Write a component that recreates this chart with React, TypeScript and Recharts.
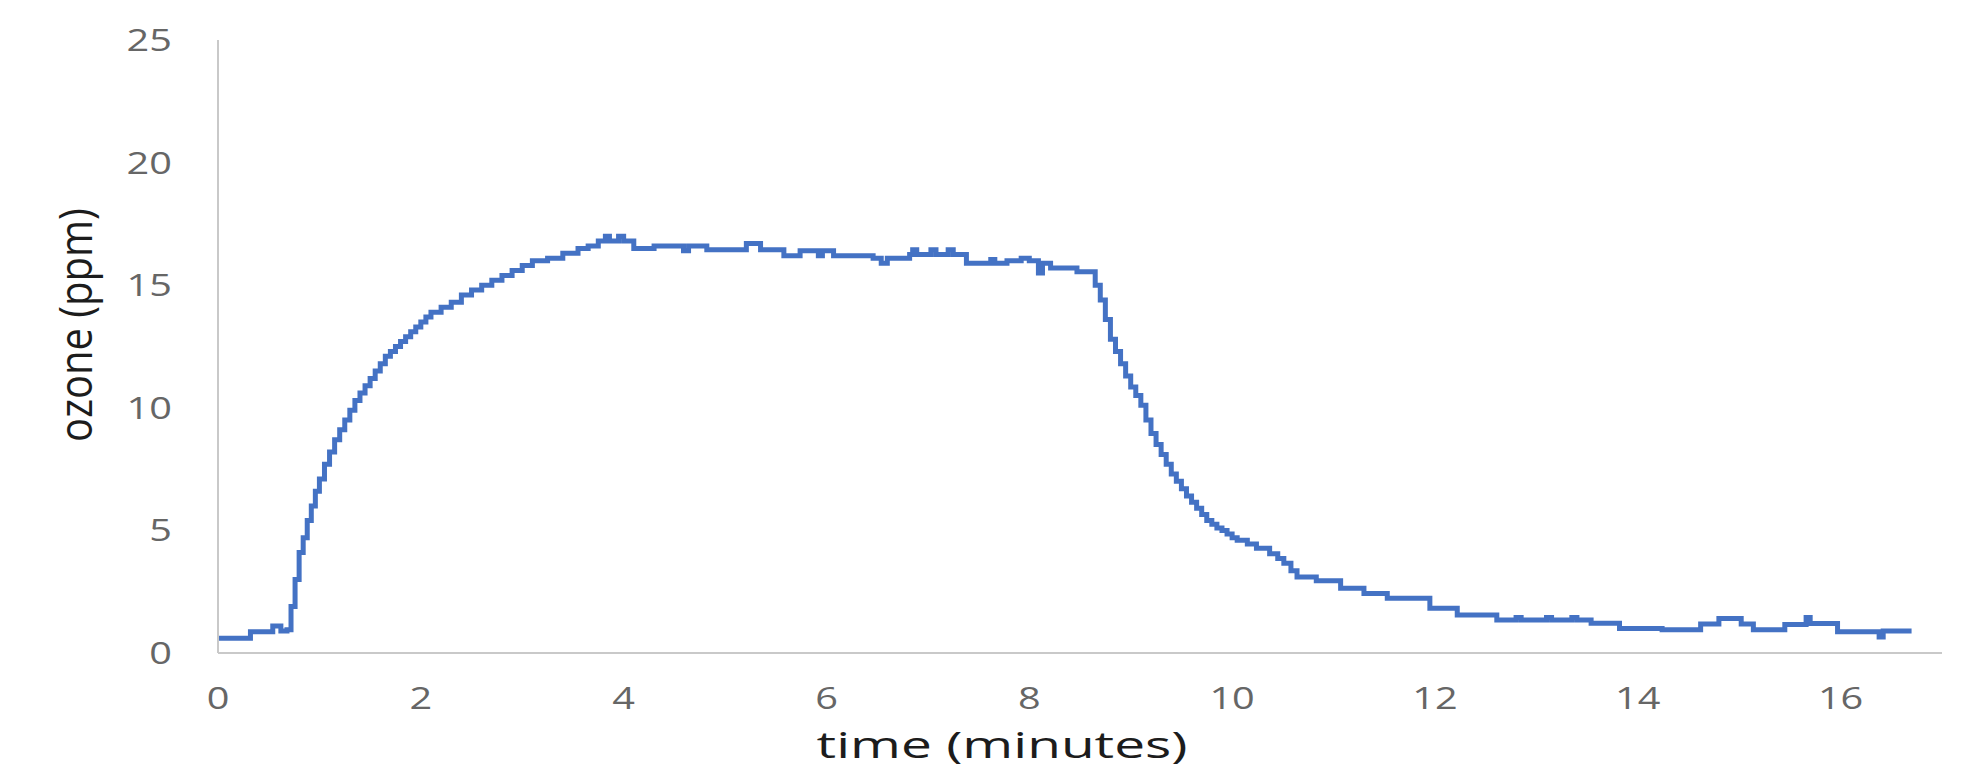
import React from "react";
import { LineChart, Line, XAxis, YAxis, Label } from "recharts";

// time in minutes
const times: number[] = [
  0, 0.32, 0.54, 0.62, 0.68, 0.72, 0.76, 0.8, 0.84, 0.88, 0.92, 0.96, 1.0, 1.05, 1.1, 1.15, 1.2, 1.25, 1.3, 1.35,
  1.4, 1.45, 1.5, 1.55, 1.6, 1.65, 1.7, 1.75, 1.8, 1.85, 1.9, 1.95, 2.0, 2.05, 2.1, 2.2, 2.3, 2.4, 2.5, 2.6,
  2.7, 2.8, 2.9, 3.0, 3.1, 3.25, 3.4, 3.55, 3.65, 3.75, 3.82, 3.86, 3.95, 4.0, 4.1, 4.3, 4.59, 4.64, 4.82, 5.21,
  5.35, 5.58, 5.74, 5.92, 5.96, 6.07, 6.46, 6.54, 6.6, 6.82, 6.85, 6.89, 7.03, 7.08, 7.2, 7.25, 7.38, 7.62, 7.66, 7.78,
  7.92, 8.0, 8.09, 8.13, 8.21, 8.47, 8.6, 8.65, 8.7, 8.75, 8.8, 8.85, 8.9, 8.95, 9.0, 9.05, 9.1, 9.15, 9.2, 9.25,
  9.3, 9.35, 9.4, 9.45, 9.5, 9.55, 9.6, 9.65, 9.7, 9.75, 9.8, 9.85, 9.9, 9.95, 10.0, 10.05, 10.15, 10.24, 10.37, 10.45,
  10.51, 10.58, 10.64, 10.83, 11.07, 11.3, 11.53, 11.95, 12.22, 12.61, 12.8, 12.85, 13.1, 13.15, 13.35, 13.4, 13.54, 13.82, 14.24, 14.62,
  14.8, 15.02, 15.14, 15.45, 15.66, 15.7, 15.97, 16.38, 16.42, 16.7,
];

// ozone concentration in ppm
const ozone: number[] = [
  0.6, 0.87, 1.1, 0.9, 0.95, 1.9, 3.0, 4.1, 4.7, 5.4, 6.0, 6.6, 7.1, 7.7, 8.2, 8.7, 9.1, 9.5, 9.9, 10.3,
  10.6, 10.9, 11.2, 11.5, 11.8, 12.1, 12.3, 12.5, 12.7, 12.9, 13.1, 13.3, 13.5, 13.7, 13.9, 14.1, 14.3, 14.6, 14.8, 15.0,
  15.2, 15.4, 15.6, 15.8, 16.0, 16.1, 16.3, 16.5, 16.6, 16.8, 17.0, 16.8, 17.0, 16.8, 16.5, 16.6, 16.4, 16.6, 16.45, 16.7,
  16.45, 16.2, 16.4, 16.2, 16.4, 16.2, 16.1, 15.9, 16.1, 16.25, 16.45, 16.25, 16.45, 16.25, 16.45, 16.25, 15.9, 16.05, 15.9, 16.0,
  16.1, 16.0, 15.5, 15.9, 15.7, 15.55, 15.55, 15.0, 14.4, 13.6, 12.8, 12.3, 11.8, 11.3, 10.85, 10.5, 10.1, 9.5, 8.95, 8.5,
  8.1, 7.7, 7.3, 7.0, 6.7, 6.4, 6.15, 5.9, 5.65, 5.4, 5.25, 5.1, 5.0, 4.85, 4.7, 4.6, 4.45, 4.27, 4.05, 3.85,
  3.66, 3.35, 3.1, 2.95, 2.64, 2.43, 2.23, 1.82, 1.55, 1.35, 1.45, 1.35, 1.45, 1.35, 1.45, 1.35, 1.21, 1.0, 0.95, 1.18,
  1.41, 1.18, 0.95, 1.16, 1.45, 1.2, 0.87, 0.65, 0.9, 0.9,
];

const xTicks: number[] = [0, 2, 4, 6, 8, 10, 12, 14, 16];
const yTicks: number[] = [0, 5, 10, 15, 20, 25];

const data = times.map((t, i) => ({ t, ozone: ozone[i] }));

const FONT = "'Open Sans', 'Noto Sans', sans-serif";
const TICK_COLOR = "#666666";
const AXIS_COLOR = "#c9c9c9";

const XTick = (props: any) => {
  const { x, y, payload } = props;
  return (
    <g transform={`translate(${x},${y + 56}) scale(1.28,1)`}>
      <text x={0} y={0} textAnchor="middle" fontFamily={FONT} fontSize={31} fill={TICK_COLOR}>
        {payload.value}
      </text>
    </g>
  );
};

const YTick = (props: any) => {
  const { y, payload } = props;
  return (
    <g transform={`translate(172,${y + 11}) scale(1.28,1)`}>
      <text x={0} y={0} textAnchor="end" fontFamily={FONT} fontSize={31} fill={TICK_COLOR}>
        {payload.value}
      </text>
    </g>
  );
};

const XTitle = (props: any) => {
  const vb = props.viewBox;
  const cx = vb.x + vb.width * 0.4548;
  const by = vb.y + 105;
  return (
    <text
      x={cx}
      y={by}
      textAnchor="middle"
      fontFamily={FONT}
      fontSize={37}
      fill="#1c1c1c"
      textLength={371}
      lengthAdjust="spacingAndGlyphs"
    >
      time (minutes)
    </text>
  );
};

const YTitle = (props: any) => {
  const vb = props.viewBox;
  const cx = 76;
  const cy = vb.y + vb.height * 0.465;
  return (
    <g transform={`translate(${cx},${cy}) rotate(-90) scale(1,1.15)`}>
      <text x={0} y={14} textAnchor="middle" fontFamily={FONT} fontSize={40} fill="#1c1c1c">
        ozone (ppm)
      </text>
    </g>
  );
};

export default function App() {
  return (
    <div style={{ position: "absolute", left: 0, top: 0, width: 1974, height: 782, background: "#ffffff" }}>
      <LineChart width={1974} height={782} data={data} margin={{ top: 40, right: 32, left: 0, bottom: 0 }}>
        <XAxis
          dataKey="t"
          type="number"
          domain={[0, 17]}
          ticks={xTicks}
          interval={0}
          tickLine={false}
          tickSize={0}
          tickMargin={0}
          height={129}
          axisLine={{ stroke: AXIS_COLOR, strokeWidth: 2 }}
          tick={<XTick />}
        >
          <Label content={<XTitle />} />
        </XAxis>
        <YAxis
          type="number"
          domain={[0, 25]}
          ticks={yTicks}
          interval={0}
          tickLine={false}
          tickSize={0}
          tickMargin={0}
          width={218}
          axisLine={{ stroke: AXIS_COLOR, strokeWidth: 2 }}
          tick={<YTick />}
        >
          <Label content={<YTitle />} />
        </YAxis>
        <Line
          type="stepAfter"
          dataKey="ozone"
          stroke="#4472C4"
          strokeWidth={5}
          dot={false}
          isAnimationActive={false}
        />
      </LineChart>
    </div>
  );
}
